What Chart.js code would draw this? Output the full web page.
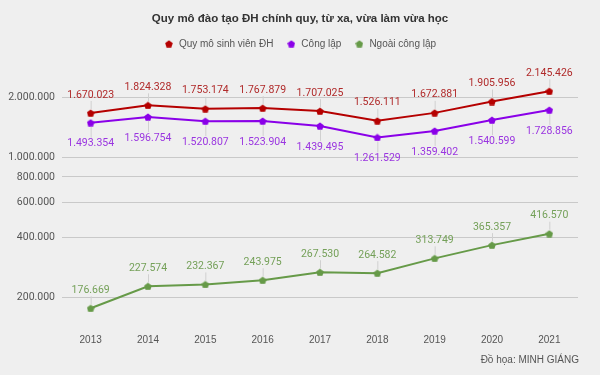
<!DOCTYPE html>
<html>
<head>
<meta charset="utf-8">
<script src="https://cdn.jsdelivr.net/npm/chart.js@4"></script>
<style>
  html, body { margin: 0; padding: 0; background: #efefef; }
  #wrap { width: 600px; height: 375px; }
</style>
</head>
<body>
<div id="wrap"><canvas id="lineChart"></canvas></div>
<script>
const years = ['2013', '2014', '2015', '2016', '2017', '2018', '2019', '2020', '2021'];
const tongSo = [1670023, 1824328, 1753174, 1767879, 1707025, 1526111, 1672881, 1905956, 2145426];
const congLap = [1493354, 1596754, 1520807, 1523904, 1439495, 1261529, 1359402, 1540599, 1728856];
const ngoaiCongLap = [176669, 227574, 232367, 243975, 267530, 264582, 313749, 365357, 416570];
const yTicks = [200000, 400000, 600000, 800000, 1000000, 2000000];

const fmt = v => String(v).replace(/\B(?=(\d{3})+(?!\d))/g, '.');

// marker hinh ngu giac
function pentagon(color, size) {
    const c = document.createElement('canvas');
    c.width = size; c.height = size;
    const g = c.getContext('2d');
    const r = size / 2;
    g.beginPath();
    for (let i = 0; i < 5; i++) {
        const a = -Math.PI / 2 + i * 2 * Math.PI / 5;
        const x = r + r * Math.cos(a), y = r + 0.5 + r * Math.sin(a);
        if (i === 0) g.moveTo(x, y); else g.lineTo(x, y);
    }
    g.closePath();
    g.fillStyle = color;
    g.fill();
    return c;
}

// nhan so lieu + duong dan
const dataLabels = {
    id: 'dataLabels',
    afterDatasetsDraw(chart) {
        const ctx = chart.ctx;
        ctx.save();
        ctx.font = '10.5px Roboto';
        ctx.textAlign = 'center';
        ctx.textBaseline = 'middle';
        chart.data.datasets.forEach((ds, i) => {
            const meta = chart.getDatasetMeta(i);
            meta.data.forEach((pt, j) => {
                const dy = ds.labelBelow ? 21 : -18;
                ctx.strokeStyle = '#d0d0d0';
                ctx.lineWidth = 1;
                ctx.beginPath();
                ctx.moveTo(pt.x + 0.5, pt.y + (dy > 0 ? 4 : -4));
                ctx.lineTo(pt.x + 0.5, pt.y + dy + (dy > 0 ? -6 : 6));
                ctx.stroke();
                ctx.fillStyle = ds.labelColor;
                ctx.fillText(fmt(ds.data[j]), pt.x, pt.y + dy);
            });
        });
        // nguon do hoa
        ctx.font = '10px "Liberation Sans"';
        ctx.fillStyle = '#555';
        ctx.textAlign = 'right';
        ctx.fillText('Đồ họa: MINH GIÁNG', chart.chartArea.right + 1, 360);
        ctx.restore();
    }
};

Chart.defaults.font.family = 'Roboto';

const ctxLine = document.getElementById('lineChart').getContext('2d');
const lineChart = new Chart(ctxLine, {
    type: 'line',
    data: {
        labels: years,
        datasets: [{
            label: 'Quy mô sinh viên ĐH',
            data: tongSo,
            borderColor: '#b50000',
            backgroundColor: '#b50000',
            labelColor: '#b02a2a',
            pointStyle: pentagon('#b50000', 8),
            borderWidth: 2,
            fill: false
        }, {
            label: 'Công lập',
            data: congLap,
            borderColor: '#8a00e8',
            backgroundColor: '#8a00e8',
            labelColor: '#9a35e0',
            labelBelow: true,
            pointStyle: pentagon('#8a00e8', 8),
            borderWidth: 2,
            fill: false
        }, {
            label: 'Ngoài công lập',
            data: ngoaiCongLap,
            borderColor: '#669a48',
            backgroundColor: '#669a48',
            labelColor: '#74a058',
            pointStyle: pentagon('#669a48', 8),
            borderWidth: 2,
            fill: false
        }]
    },
    options: {
        responsive: true,
        maintainAspectRatio: false,
        animation: false,
        layout: { padding: { left: 6, right: 6, top: 0, bottom: 21 } },
        plugins: {
            title: {
                display: true,
                text: 'Quy mô đào tạo ĐH chính quy, từ xa, vừa làm vừa học',
                color: '#333',
                font: { family: 'Liberation Sans', size: 11.5, weight: 'bold' },
                padding: { top: 12, bottom: 0 }
            },
            legend: {
                display: true,
                labels: {
                    usePointStyle: true,
                    color: '#555',
                    font: { family: 'Liberation Sans', size: 10 },
                    padding: 13
                }
            },
            tooltip: { enabled: false }
        },
        scales: {
            x: {
                offset: true,
                grid: { display: false },
                border: { display: false },
                ticks: {
                    color: '#555',
                    font: { family: 'Liberation Sans', size: 10 },
                    padding: 8
                }
            },
            y: {
                type: 'logarithmic',
                min: 158000,
                max: 3116000,
                grid: { color: '#c9c9c9', drawTicks: false },
                border: { display: false },
                afterBuildTicks: scale => { scale.ticks = yTicks.map(v => ({ value: v })); },
                afterFit: scale => { scale.width = 56; },
                ticks: {
                    color: '#555',
                    font: { size: 10.5 },
                    padding: 7,
                    callback: v => fmt(v)
                }
            },
            // truc phu ben phai, chi de canh le
            yR: {
                position: 'right',
                grid: { display: false },
                border: { display: false },
                ticks: { display: false },
                afterFit: scale => { scale.width = 16; }
            }
        }
    },
    plugins: [dataLabels]
});
</script>
</body>
</html>
